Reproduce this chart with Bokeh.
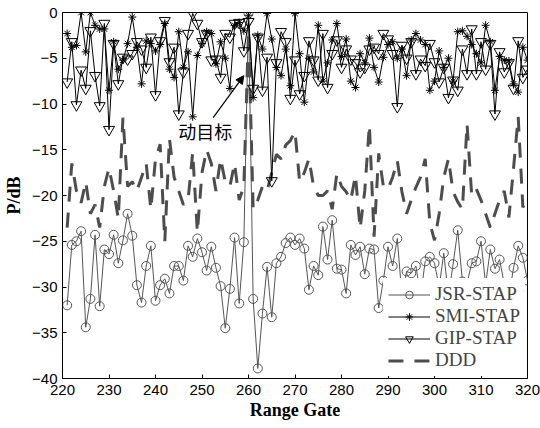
from bokeh.plotting import figure
from bokeh.models import Range1d, Legend, LegendItem, Label, Arrow, NormalHead, FixedTicker
from bokeh.embed import file_html
from bokeh.resources import INLINE

gates = list(range(221, 321))

jsr = [-32.0, -25.4, -25.0, -23.9, -34.4, -31.3, -24.3, -32.1, -25.9, -26.4,
       -24.3, -27.4, -24.9, -22.0, -24.4, -29.8, -31.7, -27.7, -25.5, -31.5,
       -29.8, -29.1, -30.7, -27.7, -27.7, -29.3, -25.5, -26.7, -24.7, -26.2,
       -28.2, -25.6, -27.9, -29.9, -34.5, -30.2, -24.6, -31.8, -25.1, -0.1,
       -31.3, -38.9, -32.9, -27.8, -33.3, -27.4, -26.7, -25.2, -24.6, -25.4,
       -24.7, -25.8, -30.3, -27.7, -28.7, -23.4, -27.0, -22.7, -28.0, -28.1,
       -30.7, -25.4, -26.5, -25.6, -28.6, -25.8, -25.9, -32.3, -29.3, -25.6,
       -27.7, -24.7, -31.0, -28.3, -28.5, -27.7, -31.0, -27.2, -26.7, -27.4,
       -30.0, -26.3, -31.0, -27.5, -23.8, -29.4, -29.6, -27.4, -27.2, -25.0,
       -29.7, -25.9, -28.0, -27.0, -29.7, -31.0, -27.9, -25.5, -26.8, -29.3]

smi = [-2.3, -3.8, -3.6, 0.0, -4.3, 0.0, -1.4, -1.8, -1.8, -8.5,
       -3.2, -6.2, -5.2, -3.4, -0.5, -3.8, -7.8, -3.1, -3.4, -4.2,
       -3.5, -1.2, -6.2, -7.1, -2.1, -6.0, -4.3, -11.4, -4.7, -3.4,
       -2.1, -2.3, -5.6, -3.2, -5.0, -8.3, -1.4, -1.1, -2.0, -0.3,
       -9.3, -2.5, -4.0, -0.1, -2.9, -6.0, -6.9, -4.0, -8.0, -0.1,
       -4.5, -9.8, -5.0, -6.5, -1.4, -7.5, -5.5, -3.0, -1.2, -4.8,
       -2.9, -7.5, -8.2, -4.5, -5.5, -2.8, -6.0, -7.6, -4.9, -3.5,
       -3.2, -5.0, -4.0, -6.9, -3.0, -2.3, -3.0, -3.5, -8.5, -7.5,
       -4.2, -6.0, -5.0, -7.5, -2.1, -2.0, -2.6, -3.5, -4.5, -5.5,
       -1.4, -3.2, -8.5, -4.8, -5.2, -5.3, -7.8, -8.7, -3.8, -5.2]

gip = [-7.6, -3.2, -10.1, -6.3, -8.3, -2.0, -6.9, -10.2, -1.2, -12.8,
       -3.4, -7.8, -4.9, -5.1, -4.5, -3.2, -4.0, -6.0, -2.7, -9.0,
       -3.1, -0.9, -5.4, -3.8, -11.1, -6.5, -2.3, -0.1, -1.2, -3.2,
       -2.3, -5.2, -5.1, -7.1, -2.3, -2.7, -1.2, -1.1, -4.2, -1.0,
       -8.3, -2.7, -8.5, -4.9, -18.4, -5.5, -2.1, -3.2, -9.4, -5.2,
       -8.9, -6.9, -3.1, -5.2, -7.4, -2.3, -8.2, -4.5, -3.0, -6.0,
       -4.0, -5.1, -5.5, -6.5, -6.0, -4.0, -3.8, -4.5, -2.3, -2.9,
       -4.5, -10.3, -3.6, -5.0, -3.2, -6.7, -5.1, -5.8, -3.4, -5.4,
       -7.6, -6.0, -9.3, -7.4, -8.5, -4.0, -6.7, -1.8, -6.7, -3.2,
       -6.2, -3.4, -11.1, -4.3, -6.5, -5.5, -8.3, -3.1, -7.1, -6.2]

ddd = [-23.5, -16.5, -19.5, -20.8, -18.5, -22.0, -21.0, -23.5, -19.0, -17.0,
       -19.5, -22.5, -11.5, -19.0, -18.5, -19.5, -18.0, -16.5, -21.5, -16.0,
       -14.4, -25.0, -13.8, -18.0, -19.5, -21.0, -20.5, -15.3, -24.0, -17.5,
       -15.0, -16.5, -19.5, -16.0, -18.5, -19.0, -16.5, -20.5, -19.0, -2.0,
       -21.5, -20.5, -19.0, -19.5, -17.5, -15.5, -16.0, -14.5, -14.0, -13.0,
       -18.5, -17.5, -16.0, -19.0, -20.0, -20.0, -19.5, -21.5, -17.6, -19.0,
       -19.6, -20.5, -17.8, -23.6, -19.5, -12.3, -24.5, -15.4, -19.0, -19.3,
       -18.0, -16.2, -19.6, -22.0, -20.5, -19.1, -18.0, -16.0, -23.0, -24.9,
       -22.0, -18.0, -16.0, -19.6, -20.7, -21.5, -12.2, -20.0, -19.3, -20.5,
       -22.0, -23.5, -22.0, -20.5, -19.5, -22.4, -17.0, -11.4, -21.3, -20.0]

x_ticks = [220, 230, 240, 250, 260, 270, 280, 290, 300, 310, 320]
y_ticks = [0, -5, -10, -15, -20, -25, -30, -35, -40]

p = figure(width=540, height=428, output_backend="svg", toolbar_location=None,
           x_range=Range1d(220, 320), y_range=Range1d(-40, 0),
           min_border_left=62, min_border_right=13, min_border_top=12, min_border_bottom=50)
p.background_fill_color = "white"
p.border_fill_color = "white"
p.outline_line_color = "black"
p.outline_line_width = 1
p.grid.visible = False

for ax in (p.xaxis[0], p.yaxis[0]):
    ax.major_tick_in = 4
    ax.major_tick_out = 0
    ax.minor_tick_in = 0
    ax.minor_tick_out = 0
    ax.axis_line_color = "black"
    ax.major_tick_line_color = "black"
    ax.major_label_text_font = "Liberation Sans"
    ax.major_label_text_font_size = "15px"
    ax.major_label_text_color = "black"
    ax.axis_label_text_font = "Liberation Serif"
    ax.axis_label_text_font_style = "bold"
    ax.axis_label_text_font_size = "18px"
    ax.axis_label_text_color = "black"
p.xaxis.ticker = FixedTicker(ticks=x_ticks)
p.yaxis.ticker = FixedTicker(ticks=y_ticks)
p.xaxis.major_label_standoff = 6
p.yaxis.major_label_standoff = 5
p.xaxis.axis_label = "Range Gate"
p.xaxis.axis_label_standoff = 2
p.yaxis.axis_label = "P/dB"
p.yaxis.axis_label_standoff = 5

# DDD dashed
dl = p.line(gates, ddd, line_color="#4d4d4d", line_width=3, line_dash="15 11")
# JSR
jl = p.line(gates, jsr, line_color="#555555", line_width=1)
jc = p.scatter(gates, jsr, marker="circle", size=9, fill_color=None,
               line_color="#555555", line_width=1)
# GIP
gl = p.line(gates, gip, line_color="black", line_width=1)
gm = p.scatter(gates, gip, marker="inverted_triangle", size=11, fill_color=None,
               line_color="black", line_width=1)
# SMI
sl = p.line(gates, smi, line_color="black", line_width=1)
sm = p.scatter(gates, smi, marker="asterisk", size=8, line_color="black", line_width=1)

legend = Legend(items=[
    LegendItem(label="JSR-STAP", renderers=[jl, jc]),
    LegendItem(label="SMI-STAP", renderers=[sl, sm]),
    LegendItem(label="GIP-STAP", renderers=[gl, gm]),
    LegendItem(label="DDD", renderers=[dl]),
], location="bottom_right")
legend.label_text_font = "Liberation Serif"
legend.label_text_font_size = "19px"
legend.glyph_width = 42
legend.glyph_height = 19
legend.label_height = 19
legend.label_standoff = 5
legend.spacing = 0
legend.padding = 5
legend.margin = 2
legend.border_line_alpha = 0
legend.background_fill_color = "white"
legend.background_fill_alpha = 1
p.add_layout(legend)

# annotation
p.add_layout(Label(x=250.7, y=-12.9, text="动目标", text_align="center", text_baseline="middle",
                   text_font="Noto Sans CJK SC", text_font_size="18px", text_color="black"))
p.add_layout(Arrow(end=NormalHead(size=8, fill_color="black", line_color="black"),
                   x_start=252.4, y_start=-11.5, x_end=259.0, y_end=-6.9,
                   line_color="black", line_width=1.2))

open("out.html", "w").write(file_html(p, INLINE))
